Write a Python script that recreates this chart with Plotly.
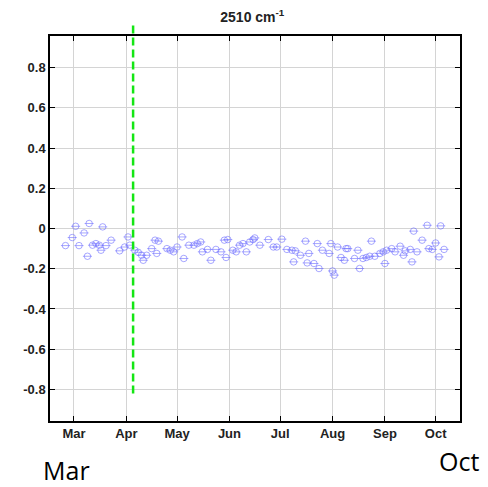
import plotly.graph_objects as go

# ---- data ----
dates = [
    "2014-02-24", "2014-02-28", "2014-03-02", "2014-03-04", "2014-03-07", "2014-03-09",
    "2014-03-10", "2014-03-12", "2014-03-14", "2014-03-16", "2014-03-17", "2014-03-18",
    "2014-03-20", "2014-03-23", "2014-03-28", "2014-03-31", "2014-04-02", "2014-04-03",
    "2014-04-06", "2014-04-08", "2014-04-10", "2014-04-11", "2014-04-13", "2014-04-16",
    "2014-04-18", "2014-04-20", "2014-04-19", "2014-04-25", "2014-04-27", "2014-04-29",
    "2014-05-01", "2014-05-04", "2014-05-05", "2014-05-08", "2014-05-11", "2014-05-13",
    "2014-05-15", "2014-05-16", "2014-05-19", "2014-05-21", "2014-05-24", "2014-05-27",
    "2014-05-29", "2014-05-30", "2014-05-31", "2014-06-03", "2014-06-05", "2014-06-07",
    "2014-06-09", "2014-06-11", "2014-06-13", "2014-06-15", "2014-06-16", "2014-06-19",
    "2014-06-24", "2014-06-27", "2014-06-29", "2014-07-02", "2014-07-05", "2014-07-08",
    "2014-07-09", "2014-07-10", "2014-07-13", "2014-07-16", "2014-07-17", "2014-07-18",
    "2014-07-21", "2014-07-23", "2014-07-24", "2014-07-26", "2014-07-30", "2014-07-31",
    "2014-08-01", "2014-08-02", "2014-08-04", "2014-08-06", "2014-08-09", "2014-08-10",
    "2014-08-08", "2014-08-14", "2014-08-16", "2014-08-17", "2014-08-19", "2014-08-21",
    "2014-08-23", "2014-08-24", "2014-08-26", "2014-08-29", "2014-08-31", "2014-09-01",
    "2014-09-02", "2014-09-05", "2014-09-07", "2014-09-10", "2014-09-12", "2014-09-13",
    "2014-09-16", "2014-09-17", "2014-09-18", "2014-09-20", "2014-09-23", "2014-09-26",
    "2014-09-27", "2014-09-29", "2014-10-01", "2014-10-03", "2014-10-04", "2014-10-06",
]
values = [
    -0.085, -0.045, 0.011, -0.085, -0.022, -0.138,
    0.025, -0.083, -0.075, -0.083, -0.108, 0.008,
    -0.085, -0.058, -0.111, -0.092, -0.042, -0.083,
    -0.108, -0.118, -0.133, -0.158, -0.133, -0.100,
    -0.058, -0.063, -0.124, -0.100, -0.108, -0.116,
    -0.092, -0.042, -0.149, -0.083, -0.083, -0.075,
    -0.067, -0.116, -0.104, -0.158, -0.104, -0.116,
    -0.058, -0.144, -0.055, -0.108, -0.116, -0.083,
    -0.075, -0.116, -0.067, -0.055, -0.047, -0.083,
    -0.055, -0.092, -0.092, -0.053, -0.104, -0.108,
    -0.166, -0.111, -0.133, -0.063, -0.171, -0.124,
    -0.174, -0.075, -0.199, -0.108, -0.124, -0.075,
    -0.211, -0.232, -0.092, -0.144, -0.100, -0.100,
    -0.158, -0.149, -0.108, -0.199, -0.149, -0.144,
    -0.138, -0.063, -0.138, -0.124, -0.116, -0.174,
    -0.108, -0.100, -0.116, -0.088, -0.133, -0.111,
    -0.104, -0.166, -0.013, -0.116, -0.058, 0.016,
    -0.100, -0.104, -0.072, -0.141, 0.013, -0.104,
]
title_text = "2510 cm<sup>-1</sup>"
event_date = "2014-04-05"
event_y = [-0.82, 1.01]
month_ticks = ["2014-03-01", "2014-04-01", "2014-05-01", "2014-06-01",
               "2014-07-01", "2014-08-01", "2014-09-01", "2014-10-01"]
month_labels = ["Mar", "Apr", "May", "Jun", "Jul", "Aug", "Sep", "Oct"]
y_ticks = [-0.8, -0.6, -0.4, -0.2, 0, 0.2, 0.4, 0.6, 0.8]
y_labels = ["-0.8", "-0.6", "-0.4", "-0.2", "0", "0.2", "0.4", "0.6", "0.8"]
x_range = ["2014-02-14 20:00", "2014-10-15 10:00"]
y_range = [-0.957, 0.957]
footer_left = "Mar"
footer_right = "Oct"

mcol = "rgba(110,110,255,0.6)"
fig = go.Figure()
fig.add_trace(go.Scatter(x=dates, y=values, mode="markers",
                         marker=dict(symbol="circle-open", size=6.5, color=mcol,
                                     line=dict(color=mcol, width=1)),
                         showlegend=False, hoverinfo="skip"))
fig.add_trace(go.Scatter(x=dates, y=values, mode="markers",
                         marker=dict(symbol="line-ew-open", size=6.5, color=mcol,
                                     line=dict(color=mcol, width=1)),
                         showlegend=False))

def to_paper(v):
    return (v - y_range[0]) / (y_range[1] - y_range[0])

fig.add_shape(type="line", xref="x", yref="paper",
              x0=event_date, x1=event_date,
              y0=to_paper(event_y[0]), y1=to_paper(event_y[1]),
              line=dict(color="rgb(20,230,20)", width=2.5, dash="8px,4px"))

tick_font = dict(family="Liberation Sans, Arial, sans-serif", size=13, color="#222")
axis_common = dict(showline=True, linecolor="black", linewidth=1.5, mirror="ticks",
                   ticks="inside", ticklen=5, tickcolor="black", tickwidth=1,
                   showgrid=True, gridcolor="#d4d4d4", gridwidth=1,
                   zeroline=False, tickfont=tick_font)

fig.update_xaxes(type="date", range=x_range, tickvals=month_ticks,
                 ticktext=["<b>%s</b>" % m for m in month_labels], **axis_common)
fig.update_yaxes(range=y_range, tickvals=y_ticks,
                 ticktext=["<b>%s</b>" % t for t in y_labels], **axis_common)

fig.update_layout(
    width=488, height=487,
    margin=dict(l=50, r=28, t=36, b=66),
    paper_bgcolor="white", plot_bgcolor="white",
    title=dict(text="<b>%s</b>" % title_text, x=0.517, xanchor="center",
               y=1 - 17 / 487, yanchor="middle",
               font=dict(family="Liberation Sans, Arial, sans-serif", size=14, color="#222")),
    annotations=[
        dict(text=footer_left, xref="paper", yref="paper", x=-0.022, y=-0.1273,
             xanchor="left", yanchor="middle", showarrow=False,
             font=dict(family="Open Sans, sans-serif", size=25, color="black")),
        dict(text=footer_right, xref="paper", yref="paper", x=1.05, y=-0.1039,
             xanchor="right", yanchor="middle", showarrow=False,
             font=dict(family="Open Sans, sans-serif", size=25, color="black")),
    ],
)

fig.write_html("out.html")
